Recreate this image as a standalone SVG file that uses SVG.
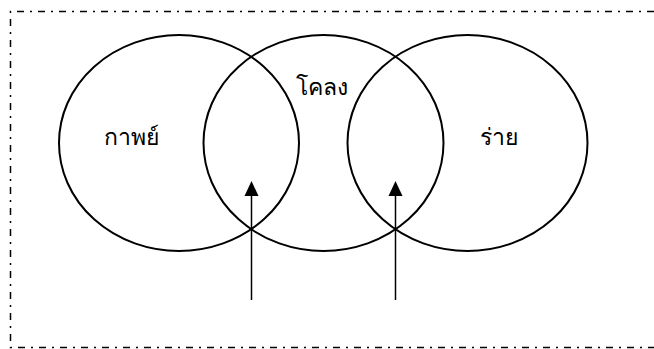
<svg xmlns="http://www.w3.org/2000/svg" width="654" height="349" viewBox="0 0 654 349">
<style>
.c{fill:none;stroke:#000;stroke-width:2}
.t{font-family:"Noto Sans","DejaVu Sans",sans-serif;font-size:23px;font-weight:normal;fill:#000;text-anchor:middle}
.b{fill:none;stroke:#000;stroke-width:1.5;stroke-dasharray:7 6 2 6}
.a{stroke:#000;stroke-width:1.5;fill:none}
</style>
<path class="b" d="M654,11.5 H10.5 V347.5 H654"/>
<g id="kap"><ellipse class="c" cx="179" cy="143" rx="120" ry="108"/><text class="t" x="131" y="145">กาพย์</text></g>
<g id="khlong"><ellipse class="c" cx="323.5" cy="143" rx="120" ry="108"/><text class="t" x="322" y="95">โคลง</text></g>
<g id="rai"><ellipse class="c" cx="467.5" cy="143" rx="120" ry="108"/><text class="t" x="499" y="145">ร่าย</text></g>
<g id="connectors">
<path d="M251.5,300 V196" class="a"/>
<path d="M251.5,181 L244.5,196 L258.5,196 z" fill="#000"/>
<path d="M395.5,300 V196" class="a"/>
<path d="M395.5,181 L388.5,196 L402.5,196 z" fill="#000"/>
</g>
</svg>
